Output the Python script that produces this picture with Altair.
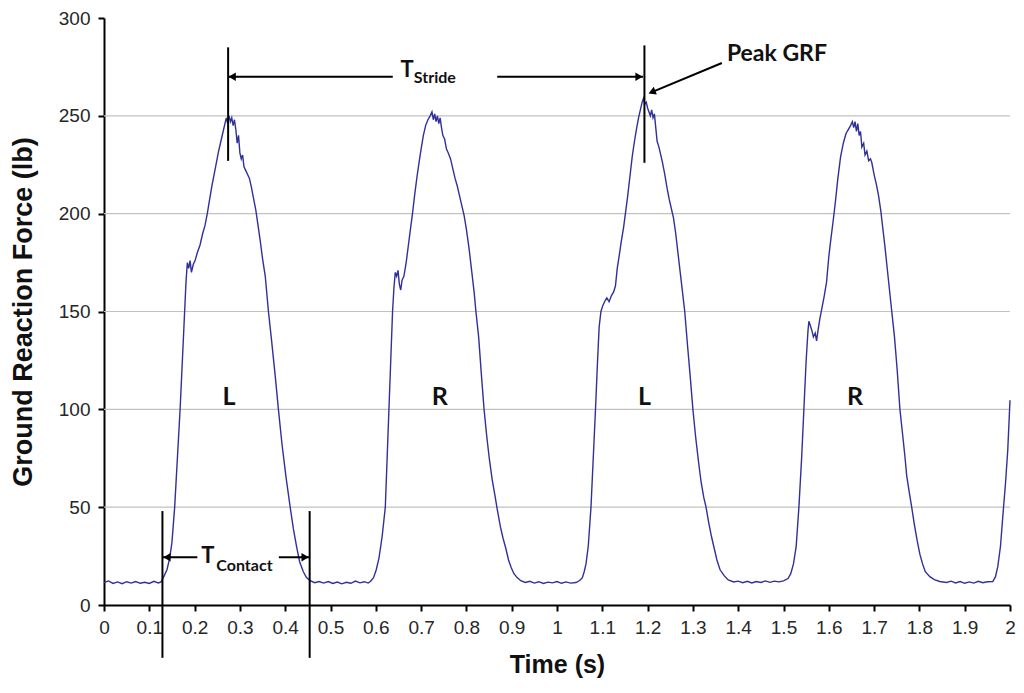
import altair as alt
import pandas as pd

# ---------------- trace data (time in s, force in lb) ----------------
base0_t = [0.000, 0.010, 0.020, 0.030, 0.040, 0.050, 0.060, 0.070, 0.080, 0.090, 0.100, 0.110, 0.120]
base0_f = [11.5, 12.3, 11.0, 11.8, 10.9, 11.9, 11.2, 12.0, 11.1, 11.6, 11.0, 12.1, 11.3]

hump1_t = [0.126, 0.133, 0.139, 0.145, 0.150, 0.156, 0.162, 0.168, 0.173, 0.178, 0.181, 0.184, 0.187,
           0.190, 0.193, 0.197, 0.201, 0.206, 0.212, 0.218, 0.223, 0.228, 0.233, 0.238, 0.243, 0.248,
           0.253, 0.258, 0.263, 0.267, 0.270, 0.273, 0.276, 0.279, 0.282, 0.285, 0.288, 0.291, 0.294,
           0.297, 0.300, 0.303, 0.306, 0.309, 0.313, 0.317, 0.321, 0.325, 0.330, 0.335, 0.340, 0.345,
           0.350, 0.356, 0.363, 0.370, 0.378, 0.385, 0.393, 0.402, 0.411, 0.418, 0.425, 0.432, 0.440,
           0.447, 0.455]
hump1_f = [11.8, 15, 18, 24, 32, 50, 75, 100, 125, 150, 165, 175, 172,
           176, 170, 174, 176, 180, 184, 190, 194, 200, 207, 214, 220, 226,
           232, 237, 242, 246, 249, 246, 250, 247, 249, 245, 248, 243, 236,
           240, 231, 228, 230, 224, 222, 220, 218, 214, 208, 202, 194, 186,
           177, 168, 150, 135, 117, 100, 82, 65, 50, 39, 30, 22, 17,
           14, 12.5]

base1_t = [0.465, 0.475, 0.485, 0.495, 0.505, 0.515, 0.525, 0.535, 0.545, 0.555, 0.565, 0.575, 0.583]
base1_f = [11.4, 12.0, 11.2, 12.0, 11.0, 11.7, 10.8, 11.6, 11.1, 12.2, 11.3, 11.9, 11.2]

hump2_t = [0.588, 0.595, 0.601, 0.607, 0.614, 0.621, 0.625, 0.629, 0.633, 0.637, 0.640, 0.643, 0.646,
           0.649, 0.652, 0.655, 0.658, 0.662, 0.667, 0.672, 0.677, 0.681, 0.686, 0.691, 0.696, 0.700,
           0.705, 0.710, 0.715, 0.720, 0.724, 0.727, 0.730, 0.733, 0.736, 0.739, 0.742, 0.745, 0.748,
           0.752, 0.756, 0.760, 0.765, 0.770, 0.775, 0.780, 0.785, 0.790, 0.795, 0.800, 0.806, 0.812,
           0.817, 0.821, 0.827, 0.833, 0.839, 0.845, 0.851, 0.857, 0.863, 0.868, 0.875, 0.881, 0.887,
           0.893, 0.899, 0.905, 0.912, 0.920]
hump2_f = [12, 14, 18, 24, 35, 50, 75, 100, 125, 150, 162, 170, 168,
           171, 164, 161, 166, 168, 175, 184, 193, 200, 210, 219, 227, 233,
           240, 245, 248, 250, 252, 248, 251, 247, 250, 246, 249, 244, 240,
           238, 233, 231, 228, 223, 218, 214, 209, 204, 199, 192, 182, 170,
           160, 150, 137, 118, 100, 86, 74, 64, 56, 49, 40, 34, 29,
           23, 19, 16, 14, 12.4]

base2_t = [0.930, 0.940, 0.950, 0.960, 0.970, 0.980, 0.990, 1.000, 1.010, 1.020, 1.030, 1.042]
base2_f = [11.5, 12.1, 11.2, 11.9, 11.0, 11.7, 11.3, 12.0, 11.1, 11.8, 11.2, 11.5]

hump3_t = [1.050, 1.056, 1.060, 1.064, 1.069, 1.075, 1.080, 1.085, 1.089, 1.093, 1.097, 1.101, 1.105,
           1.110, 1.115, 1.120, 1.125, 1.129, 1.133, 1.137, 1.142, 1.147, 1.151, 1.156, 1.161, 1.166,
           1.171, 1.176, 1.180, 1.184, 1.188, 1.191, 1.194, 1.197, 1.200, 1.203, 1.206, 1.209, 1.212,
           1.215, 1.218, 1.221, 1.225, 1.229, 1.233, 1.238, 1.243, 1.248, 1.253, 1.257, 1.262, 1.267,
           1.272, 1.277, 1.282, 1.288, 1.294, 1.300, 1.306, 1.312, 1.318, 1.324, 1.329, 1.335, 1.341,
           1.347, 1.353, 1.360, 1.369, 1.378]
hump3_f = [12.5, 14, 17, 21, 30, 50, 75, 100, 122, 142, 150, 153, 155,
           157, 155, 158, 160, 163, 172, 178, 186, 193, 200, 209, 219, 229,
           237, 244, 249, 253, 257, 259, 256, 257, 254, 252, 250, 253, 249,
           251, 244, 237, 234, 230, 226, 220, 213, 207, 202, 198, 190, 180,
           170, 160, 150, 133, 117, 100, 86, 74, 63, 55, 50, 42, 35,
           29, 23, 18, 15, 12.8]

base3_t = [1.390, 1.400, 1.410, 1.420, 1.430, 1.440, 1.450, 1.460, 1.470, 1.480, 1.490, 1.500]
base3_f = [11.8, 12.2, 11.4, 12.1, 11.3, 12.0, 11.5, 12.3, 11.6, 12.2, 11.8, 12.3]

hump4_t = [1.510, 1.516, 1.522, 1.528, 1.534, 1.540, 1.545, 1.550, 1.554, 1.556, 1.559, 1.563, 1.566,
           1.570, 1.573, 1.576, 1.580, 1.585, 1.590, 1.595, 1.600, 1.604, 1.610, 1.615, 1.620, 1.626,
           1.632, 1.638, 1.643, 1.648, 1.652, 1.655, 1.658, 1.661, 1.664, 1.667, 1.670, 1.673, 1.677,
           1.680, 1.684, 1.688, 1.692, 1.695, 1.700, 1.705, 1.710, 1.715, 1.720, 1.724, 1.729, 1.734,
           1.739, 1.745, 1.751, 1.757, 1.763, 1.768, 1.772, 1.778, 1.783, 1.789, 1.795, 1.801, 1.807,
           1.813, 1.823, 1.833, 1.845]
hump4_f = [13.5, 16, 21, 30, 50, 75, 100, 125, 140, 145, 143, 140, 137,
           139, 135, 140, 146, 152, 158, 165, 178, 186, 197, 207, 218, 229,
           236, 241, 243, 245, 247, 244, 247, 242, 246, 240, 242, 234, 236,
           230, 232, 227, 228, 226, 220, 215, 209, 201, 191, 183, 172, 161,
           150, 137, 120, 100, 87, 76, 66, 57, 50, 41, 33, 26, 21,
           17, 14.5, 13, 12]

base4_t = [1.860, 1.870, 1.880, 1.890, 1.900, 1.910, 1.920, 1.930, 1.940, 1.950, 1.962]
base4_f = [11.5, 12.2, 11.3, 12.0, 11.1, 11.8, 11.2, 12.1, 11.4, 11.9, 12.0]

rise5_t = [1.968, 1.973, 1.979, 1.984, 1.990, 1.995, 2.000]
rise5_f = [14.5, 19.6, 30, 45, 62, 79, 104.6]

time = base0_t + hump1_t + base1_t + hump2_t + base2_t + hump3_t + base3_t + hump4_t + base4_t + rise5_t
force = base0_f + hump1_f + base1_f + hump2_f + base2_f + hump3_f + base3_f + hump4_f + base4_f + rise5_f

# ---------------- axis ticks ----------------
x_ticks = [0, 0.1, 0.2, 0.3, 0.4, 0.5, 0.6, 0.7, 0.8, 0.9, 1, 1.1, 1.2, 1.3, 1.4, 1.5, 1.6, 1.7, 1.8, 1.9, 2]
y_ticks = [0, 50, 100, 150, 200, 250, 300]
grid_vals = [50, 100, 150, 200, 250]

# ---------------- annotations ----------------
vline_t = [0.274, 1.193, 0.129, 0.454]
vline_f1 = [285, 286, 48, 48]
vline_f2 = [227, 226, -27, -27]

arrow_t1 = [0.274, 0.868, 0.129, 0.386, 1.364]
arrow_t2 = [0.6375, 1.19, 0.206, 0.454, 1.212]
arrow_f1 = [270, 270, 24.4, 24.4, 277]
arrow_f2 = [270, 270, 24.4, 24.4, 262.4]

head_left_t = [0.283, 0.139]
head_left_f = [270, 24.4]
head_right_t = [1.181, 0.444]
head_right_f = [270, 24.4]
head_diag_t = [1.212]
head_diag_f = [262.4]

foot_labels = ["L", "R", "L", "R"]
foot_t = [0.276, 0.741, 1.193, 1.658]
foot_f = [106.3, 106.3, 106.3, 106.3]

big_t_text = ["T", "T"]
big_t_t = [0.669, 0.229]
big_t_f = [273.4, 25.0]

sub_text = ["Stride", "Contact"]
sub_t = [0.684, 0.248]
sub_f = [269.3, 20.0]

peak_text = ["Peak GRF"]
peak_t = [1.375]
peak_f = [281.5]

# ---------------- chart ----------------
xs = alt.Scale(domain=[0, 2], nice=False, zero=False)
ys = alt.Scale(domain=[0, 300], nice=False)

AXIS_FONT = "Liberation Sans"
ANN_FONT = "Lato"
LINE_COLOR = "#30309a"

X_AX = alt.Axis(
    values=x_ticks, format="~g", title="Time (s)", grid=False,
    labelFont=AXIS_FONT, labelFontSize=19, labelColor="#262626", labelPadding=7,
    labelFlush=False, labelOverlap=False,
    titleFont=AXIS_FONT, titleFontSize=25, titleFontWeight="bold", titleColor="#111111",
    titlePadding=15, domainColor="#000000", domainWidth=2,
    tickColor="#000000", tickWidth=2, tickSize=6)
Y_AX = alt.Axis(
    values=y_ticks, title="Ground Reaction Force (lb)", grid=False,
    labelFont=AXIS_FONT, labelFontSize=19, labelColor="#262626", labelPadding=8,
    labelFlush=False, labelOverlap=False,
    titleFont=AXIS_FONT, titleFontSize=27, titleFontWeight="bold", titleColor="#111111",
    titlePadding=21, domainColor="#000000", domainWidth=2,
    tickColor="#000000", tickWidth=2, tickSize=6)


def X(field):
    return alt.X(field, scale=xs, axis=X_AX, title="Time (s)")


def Y(field):
    return alt.Y(field, scale=ys, axis=Y_AX, title="Ground Reaction Force (lb)")


grid = alt.Chart(pd.DataFrame({"g": grid_vals})).mark_rule(
    color="#c2c2c2", strokeWidth=1.2
).encode(y=Y("g:Q"))

trace = alt.Chart(pd.DataFrame({"t": time, "F": force})).mark_line(
    color=LINE_COLOR, strokeWidth=1.4
).encode(x=X("t:Q"), y=Y("F:Q"))

vlines = alt.Chart(pd.DataFrame({"t": vline_t, "a": vline_f1, "b": vline_f2})).mark_rule(
    color="black", strokeWidth=2, clip=False
).encode(x=X("t:Q"), y=Y("a:Q"), y2="b:Q")

arrows = alt.Chart(pd.DataFrame({"t1": arrow_t1, "t2": arrow_t2, "a": arrow_f1, "b": arrow_f2})).mark_rule(
    color="black", strokeWidth=2, clip=False
).encode(x=X("t1:Q"), x2="t2:Q", y=Y("a:Q"), y2="b:Q")


def heads(tv, fv, shape, angle=0):
    return alt.Chart(pd.DataFrame({"t": tv, "F": fv})).mark_point(
        shape=shape, filled=True, color="black", size=70, opacity=1, angle=angle, clip=False
    ).encode(x=X("t:Q"), y=Y("F:Q"))


hl = heads(head_left_t, head_left_f, "triangle-left")
hr = heads(head_right_t, head_right_f, "triangle-right")
hd = heads(head_diag_t, head_diag_f, "triangle", 248)


def texts(lbls, tv, fv, size, align="center"):
    return alt.Chart(pd.DataFrame({"t": tv, "F": fv, "s": lbls})).mark_text(
        font=ANN_FONT, fontWeight="bold", fontSize=size, color="#111111",
        align=align, baseline="middle", clip=False
    ).encode(x=X("t:Q"), y=Y("F:Q"), text="s:N")


feet = texts(foot_labels, foot_t, foot_f, 25)
bigT = texts(big_t_text, big_t_t, big_t_f, 22)
subs = texts(sub_text, sub_t, sub_f, 16, align="left")
peak = texts(peak_text, peak_t, peak_f, 23, align="left")

chart = alt.layer(
    grid, trace, vlines, arrows, hl, hr, hd, feet, bigT, subs, peak
).properties(
    width=906, height=587,
    autosize=alt.AutoSizeParams(type="none"),
    padding={"left": 96, "top": 10, "right": 6, "bottom": 80},
).configure_view(stroke=None)

chart.save("out.html", embed_options={"renderer": "svg", "actions": False})
